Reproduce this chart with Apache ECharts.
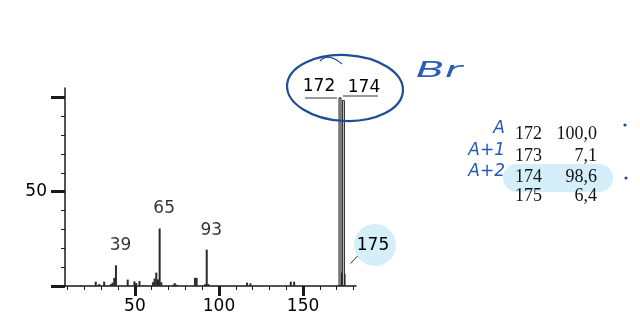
<!DOCTYPE html>
<html><head><meta charset="utf-8">
<script src="https://cdn.jsdelivr.net/npm/echarts@6/dist/echarts.min.js"></script>
<style>html,body{margin:0;padding:0;background:#fff}#c{width:640px;height:324px}</style>
</head><body><div id="c"></div>
<script>
// m/z values and relative intensities
const mz        = [18, 27, 29, 32, 36, 37, 38, 39, 46, 50, 51, 53, 55, 57, 61, 62, 63, 64, 65, 66, 73, 74, 75, 86, 87, 92, 93, 94, 117, 119, 143, 145, 172, 173, 174, 175];
const intensity = [0.5, 2.3, 1.0, 2.3, 1.0, 1.8, 4.3, 11.0, 3.4, 2.5, 1.6, 2.6, 0.4, 0.4, 2.0, 4.0, 7.1, 3.5, 30.5, 2.0, 0.7, 1.5, 0.7, 4.3, 4.3, 0.9, 19.3, 1.0, 1.8, 1.4, 2.3, 2.3, 100.0, 7.1, 98.6, 6.4];
const labelledMz = [39, 65, 93];
const xMajorTicks = [50, 100, 150];
const xMinorTicks = [10, 20, 30, 40, 60, 70, 80, 90, 110, 120, 130, 140, 160, 170, 180];
const yMajorTicks = [0, 50, 100];
const yLabels = [50];
const yMinorTicks = [10, 20, 30, 40, 60, 70, 80, 90];
// isotope table
const tableMz = ['172', '173', '174', '175'];
const tableAbund = ['100,0', '7,1', '98,6', '6,4'];
const tableTags = ['A', 'A+1', 'A+2', ''];

const chart = echarts.init(document.getElementById('c'), null, {renderer: 'canvas'});
const bigThreshold = 50;
const smallPts = [], bigPts = [];
mz.forEach((m, i) => (intensity[i] >= bigThreshold ? bigPts : smallPts).push([m, intensity[i]]));
const labelPts = labelledMz.map(m => [m, intensity[mz.indexOf(m)]]);

const FONT = 'DejaVu Sans';
const AX = '#1a1a1a';
const TXT = '#000';
const xBase = {type: 'value', min: 8.4, max: 181.5, position: 'bottom', splitLine: {show: false}};
const yBase = {type: 'value', min: 0, max: 105, position: 'left', splitLine: {show: false}};

const graphics = [];
// highlight shapes (behind)
graphics.push({type: 'circle', z: 0, shape: {cx: 375, cy: 245, r: 21}, style: {fill: '#d4eefa'}});
graphics.push({type: 'rect', z: 0, shape: {x: 503, y: 164, width: 110, height: 28, r: 14}, style: {fill: '#d4eefa'}});
// printed labels for 172/174/175
graphics.push({type: 'text', z: 50, style: {text: '172', x: 319, y: 87, align: 'center', verticalAlign: 'middle', font: '17px "DejaVu Sans"', fill: TXT}});
graphics.push({type: 'line', z: 50, shape: {x1: 305, y1: 98, x2: 337, y2: 98}, style: {stroke: '#333', lineWidth: 1}});
graphics.push({type: 'text', z: 50, style: {text: '174', x: 364, y: 88, align: 'center', verticalAlign: 'middle', font: '17px "DejaVu Sans"', fill: TXT}});
graphics.push({type: 'line', z: 50, shape: {x1: 343, y1: 96, x2: 378, y2: 96}, style: {stroke: '#333', lineWidth: 1}});
graphics.push({type: 'text', z: 50, style: {text: '175', x: 373, y: 246, align: 'center', verticalAlign: 'middle', font: '17px "DejaVu Sans"', fill: TXT}});
graphics.push({type: 'line', z: 50, shape: {x1: 350.5, y1: 263.5, x2: 357.5, y2: 256}, style: {stroke: '#333', lineWidth: 1}});
// handwritten ellipse and Br
graphics.push({type: 'ellipse', z: 50, shape: {cx: 345, cy: 88, rx: 58, ry: 33}, rotation: -0.05, originX: 345, originY: 88, style: {stroke: '#1f4f92', lineWidth: 2.2, fill: null}});
graphics.push({type: 'bezierCurve', z: 50, shape: {x1: 320, y1: 61, cpx1: 328, cpy1: 52, x2: 342, y2: 64}, style: {stroke: '#1f4f92', lineWidth: 1.2, fill: null}});
graphics.push({type: 'text', z: 50, x: 416, y: 71, scaleX: 1.9, style: {text: 'Br', x: 0, y: 0, align: 'left', verticalAlign: 'middle', font: 'italic 300 22px "DejaVu Sans"', fill: '#2a5eb4'}});
// table
const rowY = [134, 156, 177, 196];
tableMz.forEach((t, i) => {
  graphics.push({type: 'text', z: 50, style: {text: t, x: 515, y: rowY[i], align: 'left', verticalAlign: 'middle', font: '18px "Liberation Serif"', fill: '#111'}});
  graphics.push({type: 'text', z: 50, style: {text: tableAbund[i], x: 597, y: rowY[i], align: 'right', verticalAlign: 'middle', font: '18px "Liberation Serif"', fill: '#111'}});
  if (tableTags[i]) graphics.push({type: 'text', z: 50, style: {text: tableTags[i], x: 505, y: rowY[i] - 5, align: 'right', verticalAlign: 'middle', font: 'italic 17px "DejaVu Sans"', fill: '#2258b8'}});
});
graphics.push({type: 'circle', z: 50, shape: {cx: 625, cy: 125, r: 1.6}, style: {fill: '#1f4f92'}});
graphics.push({type: 'circle', z: 50, shape: {cx: 626, cy: 178, r: 1.6}, style: {fill: '#1f4f92'}});

chart.setOption({
  animation: false,
  backgroundColor: '#fff',
  grid: {left: 65, right: 284, top: 88, bottom: 38, containLabel: false, outerBoundsMode: 'none'},
  xAxis: [
    Object.assign({}, xBase, {
      axisLine: {show: true, onZero: false, lineStyle: {color: AX, width: 1.5}},
      axisTick: {show: true, customValues: xMajorTicks, length: 10, lineStyle: {color: AX, width: 3}},
      axisLabel: {show: true, customValues: xMajorTicks, margin: 12, fontSize: 17, fontFamily: FONT, color: TXT}
    }),
    Object.assign({}, xBase, {
      axisLine: {show: false, onZero: false},
      axisTick: {show: true, customValues: xMinorTicks, length: 4, lineStyle: {color: AX, width: 1}},
      axisLabel: {show: false}
    })
  ],
  yAxis: [
    Object.assign({}, yBase, {
      axisLine: {show: true, onZero: false, lineStyle: {color: AX, width: 1.5}},
      axisTick: {show: true, customValues: yMajorTicks, length: 14, lineStyle: {color: AX, width: 3}},
      axisLabel: {show: true, customValues: yLabels, margin: 18, fontSize: 17, fontFamily: FONT, color: TXT}
    }),
    Object.assign({}, yBase, {
      axisLine: {show: false, onZero: false},
      axisTick: {show: true, customValues: yMinorTicks, length: 4, lineStyle: {color: AX, width: 1}},
      axisLabel: {show: false}
    })
  ],
  series: [
    {type: 'bar', name: 'small', data: smallPts, barWidth: 2, barGap: '-100%', itemStyle: {color: '#2a2a2a'}, z: 3},
    {type: 'bar', name: 'big', data: bigPts, barWidth: 3, barGap: '-100%', itemStyle: {color: '#d0d0d0', borderColor: '#222', borderWidth: 1}, z: 3},
    {type: 'scatter', name: 'labels', data: labelPts, symbolSize: 0, z: 4,
     label: {show: true, position: 'top', distance: 0, offset: [4, -11], formatter: p => String(p.value[0]), fontSize: 17, fontFamily: FONT, color: TXT}}
  ],
  graphic: graphics
});
</script></body></html>
